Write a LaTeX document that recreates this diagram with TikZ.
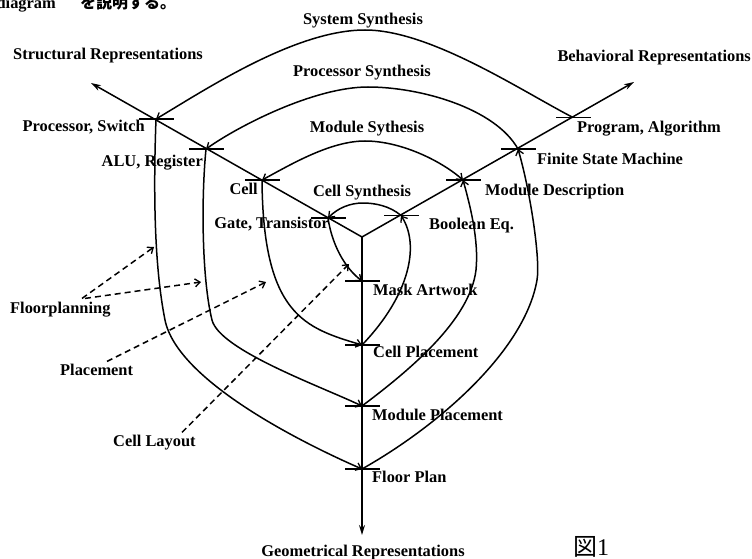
\documentclass[tikz,border=0pt]{standalone}
\usepackage{fontspec}
\setmainfont{Liberation Serif}
\newfontfamily\jpfont{Noto Sans CJK JP}
\usetikzlibrary{arrows.meta}

\tikzset{
	barb/.tip={Straight Barb[length=5pt,width=8pt,line width=1.3pt]},
	lbl/.style={inner sep=0pt, font=\fontsize{16.4}{18}\selectfont\bfseries},
	axis/.style={line width=1.5pt, -{Stealth[length=10pt,width=6pt]}},
	flow/.style={line width=1.5pt, -barb},
	hint/.style={line width=1.5pt, dash pattern=on 6pt off 4pt, -barb},
	tickmark/.style={line width=1.3pt}
}

\begin{document}
\begin{tikzpicture}[x=1pt,y=-1pt]
			%%%%% START %%%%%
			\useasboundingbox (0,0) rectangle (752,559);
			
			\begin{scope}
				\clip (0,0) rectangle (752,559);
				\node[lbl, anchor=base east] (capA) at (56,9) {diagram};
				\node[inner sep=0pt, anchor=base west, font=\jpfont\fontsize{16}{18}\selectfont\bfseries] (capB) at (80,9) {を説明する。};
			\end{scope}
			
			% axes
			\coordinate (O) at (362,237);
			\coordinate (ltip) at (91,83);
			\coordinate (rtip) at (634,82);
			\coordinate (dtip) at (362,535);
			\draw[axis] (O) -- (ltip);
			\draw[axis] (O) -- (rtip);
			\draw[axis] (O) -- (dtip);
			
			% points on the axes
			\coordinate (ps) at (156,119);
			\coordinate (alu) at (206,149);
			\coordinate (ce) at (262,180);
			\coordinate (gt) at (328,218);
			\coordinate (pa) at (573,117.5);
			\coordinate (fsm) at (518,149);
			\coordinate (md) at (463,180);
			\coordinate (be) at (401,215.5);
			\coordinate (ma) at (362,281);
			\coordinate (cp) at (362,345);
			\coordinate (mp) at (362,406);
			\coordinate (fp) at (362,469);
			\foreach \p in {ps,alu,ce,gt,pa,fsm,md,be,ma,cp,mp,fp}
				\draw[tickmark] (\p) ++(-17,0) -- ++(35,0);
			
			% synthesis
			\coordinate (sysTop) at (365,30);
			\coordinate (procTop) at (368,87);
			\coordinate (modTop) at (365,141);
			\coordinate (cellTop) at (363,203);
			\draw[flow] (pa) .. controls (520,90) and (430,30) .. (sysTop) .. controls (295,30) and (205,90) .. (ps);
			\draw[flow] (fsm) .. controls (495,108) and (420,87) .. (procTop) .. controls (315,87) and (240,125) .. (alu);
			\draw[flow, barb-barb] (md) .. controls (440,160) and (400,141) .. (modTop) .. controls (330,141) and (290,165) .. (ce);
			\draw[flow] (be) .. controls (390,206) and (375,203) .. (cellTop) .. controls (350,203) and (338,208) .. (gt);
			
			% structural to geometrical
			\draw[flow] (gt) .. controls (332,245) and (345,268) .. (ma);
			\draw[flow] (ce) .. controls (263,315) and (305,328) .. (cp);
			\draw[flow] (alu) .. controls (201,200) and (202,280) .. (212,320) .. controls (219.5,350) and (320,386) .. (mp);
			\draw[flow] (ps) .. controls (153,200) and (155,270) .. (165,320) .. controls (177,380) and (300,442) .. (fp);
			
			% geometrical to behavioral
			\draw[flow] (cp) .. controls (410,295) and (420,245) .. (be);
			\draw[flow] (mp) .. controls (410,370) and (470,320) .. (476,270) .. controls (479,240) and (470,205) .. (md);
			\draw[flow] (fp) .. controls (440,425) and (525,350) .. (537,280) .. controls (540.6,259) and (530,190) .. (fsm);
			
			% labels
			\node[lbl, anchor=base] (sys) at (363,25) {System Synthesis};
			\node[lbl, anchor=base] (proc) at (362,77) {Processor Synthesis};
			\node[lbl, anchor=base] (mod) at (367,132.5) {Module Sythesis};
			\node[lbl, anchor=base] (cel) at (362,196) {Cell Synthesis};
			\node[lbl, anchor=base west] (str) at (13,60) {Structural Representations};
			\node[lbl, anchor=base east] (beh) at (751,61.5) {Behavioral Representations};
			\node[lbl, anchor=base] (geo) at (363,556) {Geometrical Representations};
			
			\node[lbl, anchor=base east] at (145,131.5) {Processor, Switch};
			\node[lbl, anchor=base east] at (203,166.5) {ALU, Register};
			\node[lbl, anchor=base east] at (258,194.5) {Cell};
			\node[lbl, anchor=base east] at (329,228.5) {Gate, Transistor};
			\node[lbl, anchor=base west] at (577,132.5) {Program, Algorithm};
			\node[lbl, anchor=base west] at (537,164.5) {Finite State Machine};
			\node[lbl, anchor=base west] at (485,195.5) {Module Description};
			\node[lbl, anchor=base west] at (429,229) {Boolean Eq.};
			\node[lbl, anchor=base west] at (373,295) {Mask Artwork};
			\node[lbl, anchor=base west] at (373,357.5) {Cell Placement};
			\node[lbl, anchor=base west] at (372,420) {Module Placement};
			\node[lbl, anchor=base west] at (372,482.5) {Floor Plan};
			
			\node[lbl, anchor=base west] (flp) at (10,313) {Floorplanning};
			\node[lbl, anchor=base west] (plc) at (60,375) {Placement};
			\node[lbl, anchor=base west] (cly) at (113,446) {Cell Layout};
			
			\node[inner sep=0pt, anchor=base west, font=\fontsize{24}{26}\selectfont] (fig) at (573,555) {{\jpfont 図}1};
			
			% dashed pointers
			\coordinate (flTipA) at (154,247);
			\coordinate (flTipB) at (201,282);
			\coordinate (plTip) at (266,282);
			\coordinate (clTip) at (349,264);
			\draw[hint] ([xshift=72pt,yshift=3pt]flp.north west) -- (flTipA);
			\draw[hint] ([xshift=75pt,yshift=3pt]flp.north west) -- (flTipB);
			\draw[hint] ([xshift=47pt,yshift=2pt]plc.north west) -- (plTip);
			\draw[hint] ([xshift=69pt,yshift=2pt]cly.north west) -- (clTip);
			
			%%%%% END %%%%%
\end{tikzpicture}
\end{document}
